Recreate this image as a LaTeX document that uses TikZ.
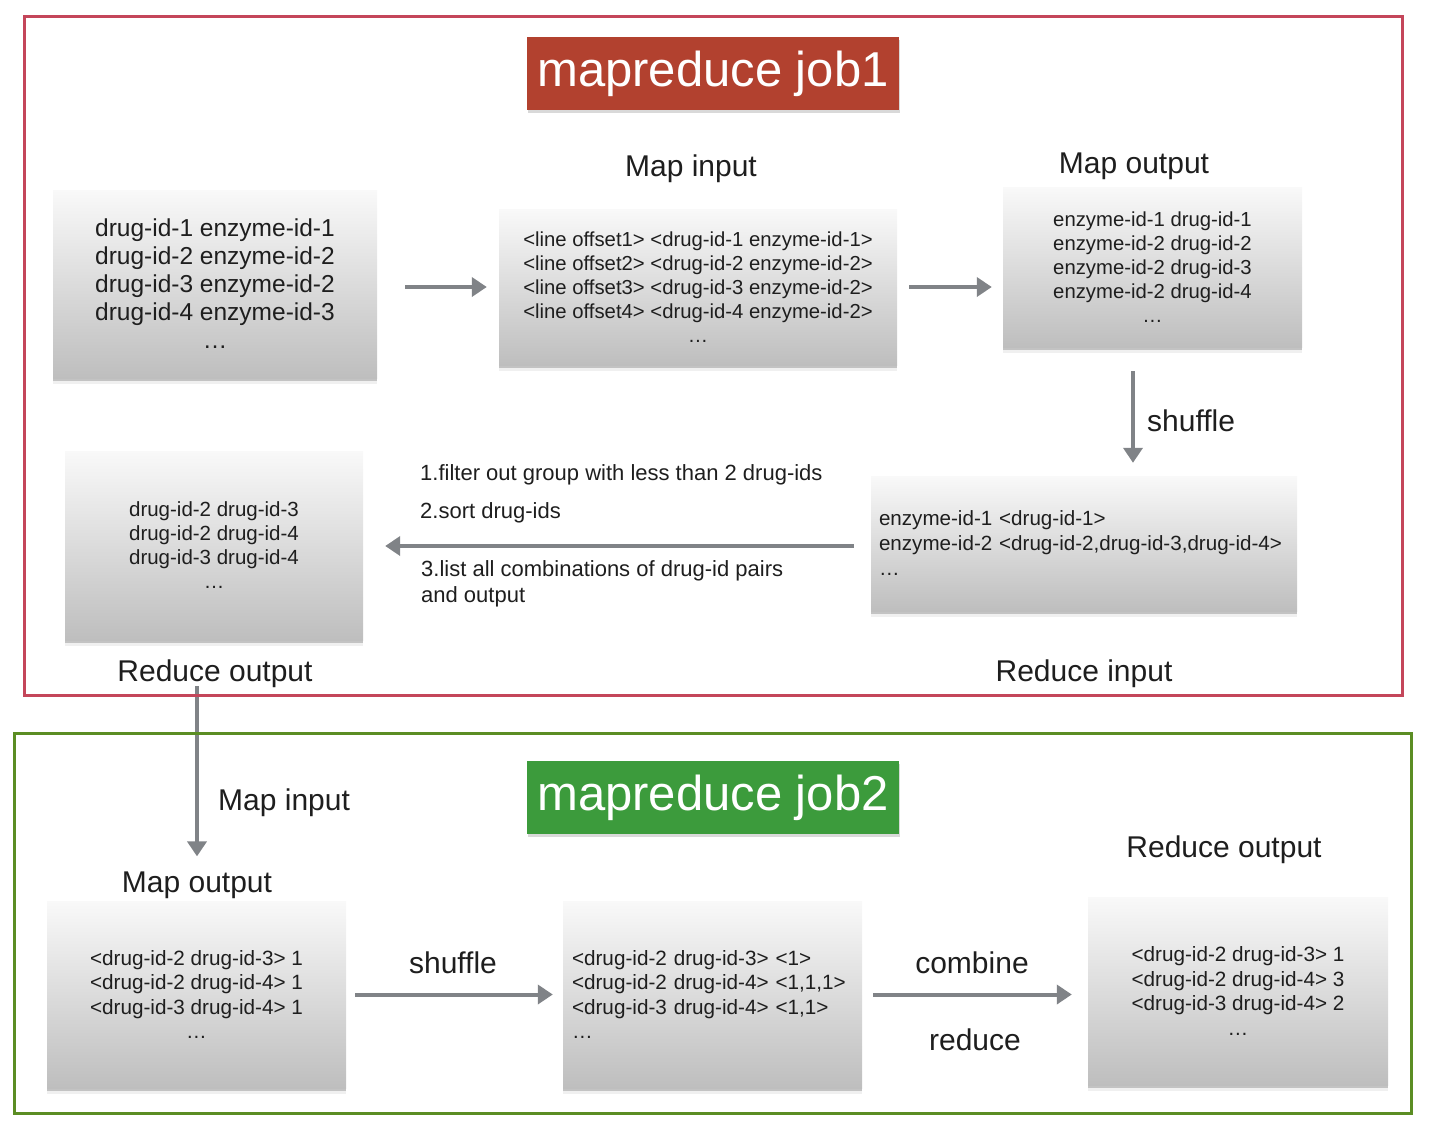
\documentclass[tikz,border=0pt]{standalone}
\usepackage{fontspec}
\setmainfont{Liberation Sans}
\usetikzlibrary{arrows.meta,shadows,calc}
\definecolor{redframe}{RGB}{196,70,90}
\definecolor{greenframe}{RGB}{91,141,35}
\definecolor{jobred}{RGB}{178,65,47}
\definecolor{jobgreen}{RGB}{60,155,60}
\definecolor{arrowgray}{RGB}{128,131,135}
\definecolor{boxtop}{RGB}{249,249,249}
\definecolor{boxbot}{RGB}{190,190,190}
\definecolor{txt}{RGB}{30,30,30}
\begin{document}
\begin{tikzpicture}[x=1pt,y=-1pt,
  graybox/.style={draw=none, top color=boxtop, bottom color=boxbot,
    drop shadow={shadow xshift=0pt, shadow yshift=-6pt, opacity=0.12},
    drop shadow={shadow xshift=0pt, shadow yshift=-3pt, opacity=0.4},
    inner sep=0pt, align=center, text=txt},
  titlebox/.style={draw=none, minimum width=372pt, minimum height=73pt, inner sep=0pt,
    text=white, font=\fontsize{49}{54}\selectfont,
    drop shadow={shadow xshift=1pt, shadow yshift=-3pt, opacity=0.3}},
  lbl/.style={font=\fontsize{30}{34}\selectfont, text=txt, inner sep=0pt},
  note/.style={font=\fontsize{22}{26}\selectfont, text=txt, inner sep=0pt, align=left},
  arr/.style={draw=arrowgray, line width=4pt, -{Triangle[length=15pt,width=19pt]}},
  frame/.style={line width=3pt}
]
\useasboundingbox (0,0) rectangle (1438,1138);

% titles
\node[titlebox, fill=jobred] (t1) at (713,73.5) {mapreduce job1};
\node[titlebox, fill=jobgreen] (t2) at (713,797.5) {mapreduce job2};

% job1 boxes
\node[graybox, minimum width=324pt, minimum height=188pt, font=\fontsize{24.5}{28}\selectfont] (b1) at (215,284)
  {drug-id-1 enzyme-id-1\\drug-id-2 enzyme-id-2\\drug-id-3 enzyme-id-2\\drug-id-4 enzyme-id-3\\…};
\node[graybox, minimum width=398pt, minimum height=156pt, font=\fontsize{20.3}{24}\selectfont] (b2) at (698,287)
  {<line offset1> <drug-id-1 enzyme-id-1>\\<line offset2> <drug-id-2 enzyme-id-2>\\<line offset3> <drug-id-3 enzyme-id-2>\\<line offset4> <drug-id-4 enzyme-id-2>\\…};
\node[graybox, minimum width=299pt, minimum height=160pt, font=\fontsize{20.3}{24}\selectfont] (b3) at (1152.5,267)
  {enzyme-id-1 drug-id-1\\enzyme-id-2 drug-id-2\\enzyme-id-2 drug-id-3\\enzyme-id-2 drug-id-4\\…};
\node[graybox, minimum width=426pt, minimum height=135pt, align=left, text width=410pt, inner xsep=8pt, font=\fontsize{20.6}{25}\selectfont] (b4) at (1084,543.5)
  {enzyme-id-1 <drug-id-1>\\enzyme-id-2 <drug-id-2,drug-id-3,drug-id-4>\\…};
\node[graybox, minimum width=298pt, minimum height=189pt, font=\fontsize{20.5}{24}\selectfont] (b5) at (214,545.5)
  {drug-id-2 drug-id-3\\drug-id-2 drug-id-4\\drug-id-3 drug-id-4\\…};

% job2 boxes
\node[graybox, minimum width=299pt, minimum height=187pt, font=\fontsize{20.7}{24.5}\selectfont] (b6) at (196.5,994.5)
  {<drug-id-2 drug-id-3> 1\\<drug-id-2 drug-id-4> 1\\<drug-id-3 drug-id-4> 1\\…};
\node[graybox, minimum width=299pt, minimum height=187pt, align=left, text width=281pt, inner xsep=9pt, font=\fontsize{20.7}{24.5}\selectfont] (b7) at (712.5,994.5)
  {<drug-id-2 drug-id-3> <1>\\<drug-id-2 drug-id-4> <1,1,1>\\<drug-id-3 drug-id-4> <1,1>\\…};
\node[graybox, minimum width=300pt, minimum height=188pt, font=\fontsize{20.7}{24.5}\selectfont] (b8) at (1238,991)
  {<drug-id-2 drug-id-3> 1\\<drug-id-2 drug-id-4> 3\\<drug-id-3 drug-id-4> 2\\…};

% labels job1
\node[lbl] (lmi1) at (691,169) {Map input};
\node[lbl] (lmo1) at (1134,166) {Map output};
\node[lbl, anchor=west] (lsh1) at (1147,421) {shuffle};
\node[lbl] (lro1) at (215,674) {Reduce output};
\node[lbl] (lri1) at (1084,674) {Reduce input};
\node[note, anchor=west] (n1) at (420,475) {1.filter out group with less than 2 drug-ids};
\node[note, anchor=west] (n2) at (420,513) {2.sort drug-ids};
\node[note, anchor=west] (n3) at (421,584) {3.list all combinations of drug-id pairs\\and output};

% labels job2
\node[lbl, anchor=west] (lmi2) at (218,803) {Map input};
\node[lbl] (lmo2) at (197,885) {Map output};
\node[lbl] (lsh2) at (453,963) {shuffle};
\node[lbl] (lcb2) at (972,963) {combine};
\node[lbl] (lrd2) at (975,1040) {reduce};
\node[lbl] (lro2) at (1224,850) {Reduce output};

% arrows
\coordinate (a3s) at ($(b3.south)+(-19.5pt,-24pt)$);
\coordinate (a3e) at (a3s |- b4.north);
\draw[arr] ([xshift=28pt]b1.east |- b2.west) -- ([xshift=-12pt]b2.west);
\draw[arr] ([xshift=12pt]b2.east) -- ([xshift=-11pt]b2.east -| b3.west);
\draw[arr] (a3s) -- ([yshift=13pt]a3e);
\draw[arr] ([xshift=-17pt]b4.west |- 0,546) -- ([xshift=22pt]b5.east |- 0,546);
\draw[arr] ([yshift=2pt]lmo2.north |- lro1.south) -- ([yshift=15pt]lmo2.north);
\draw[arr] ([xshift=9pt]b6.east) -- ([xshift=-10pt]b7.west);
\draw[arr] ([xshift=11pt]b7.east) -- ([xshift=-16pt]b8.west |- b7.east);

% frames
\draw[frame, draw=redframe] (24,16) rectangle (1402,695);
\draw[frame, draw=greenframe] (14,733) rectangle (1411,1113);
\end{tikzpicture}
\end{document}
